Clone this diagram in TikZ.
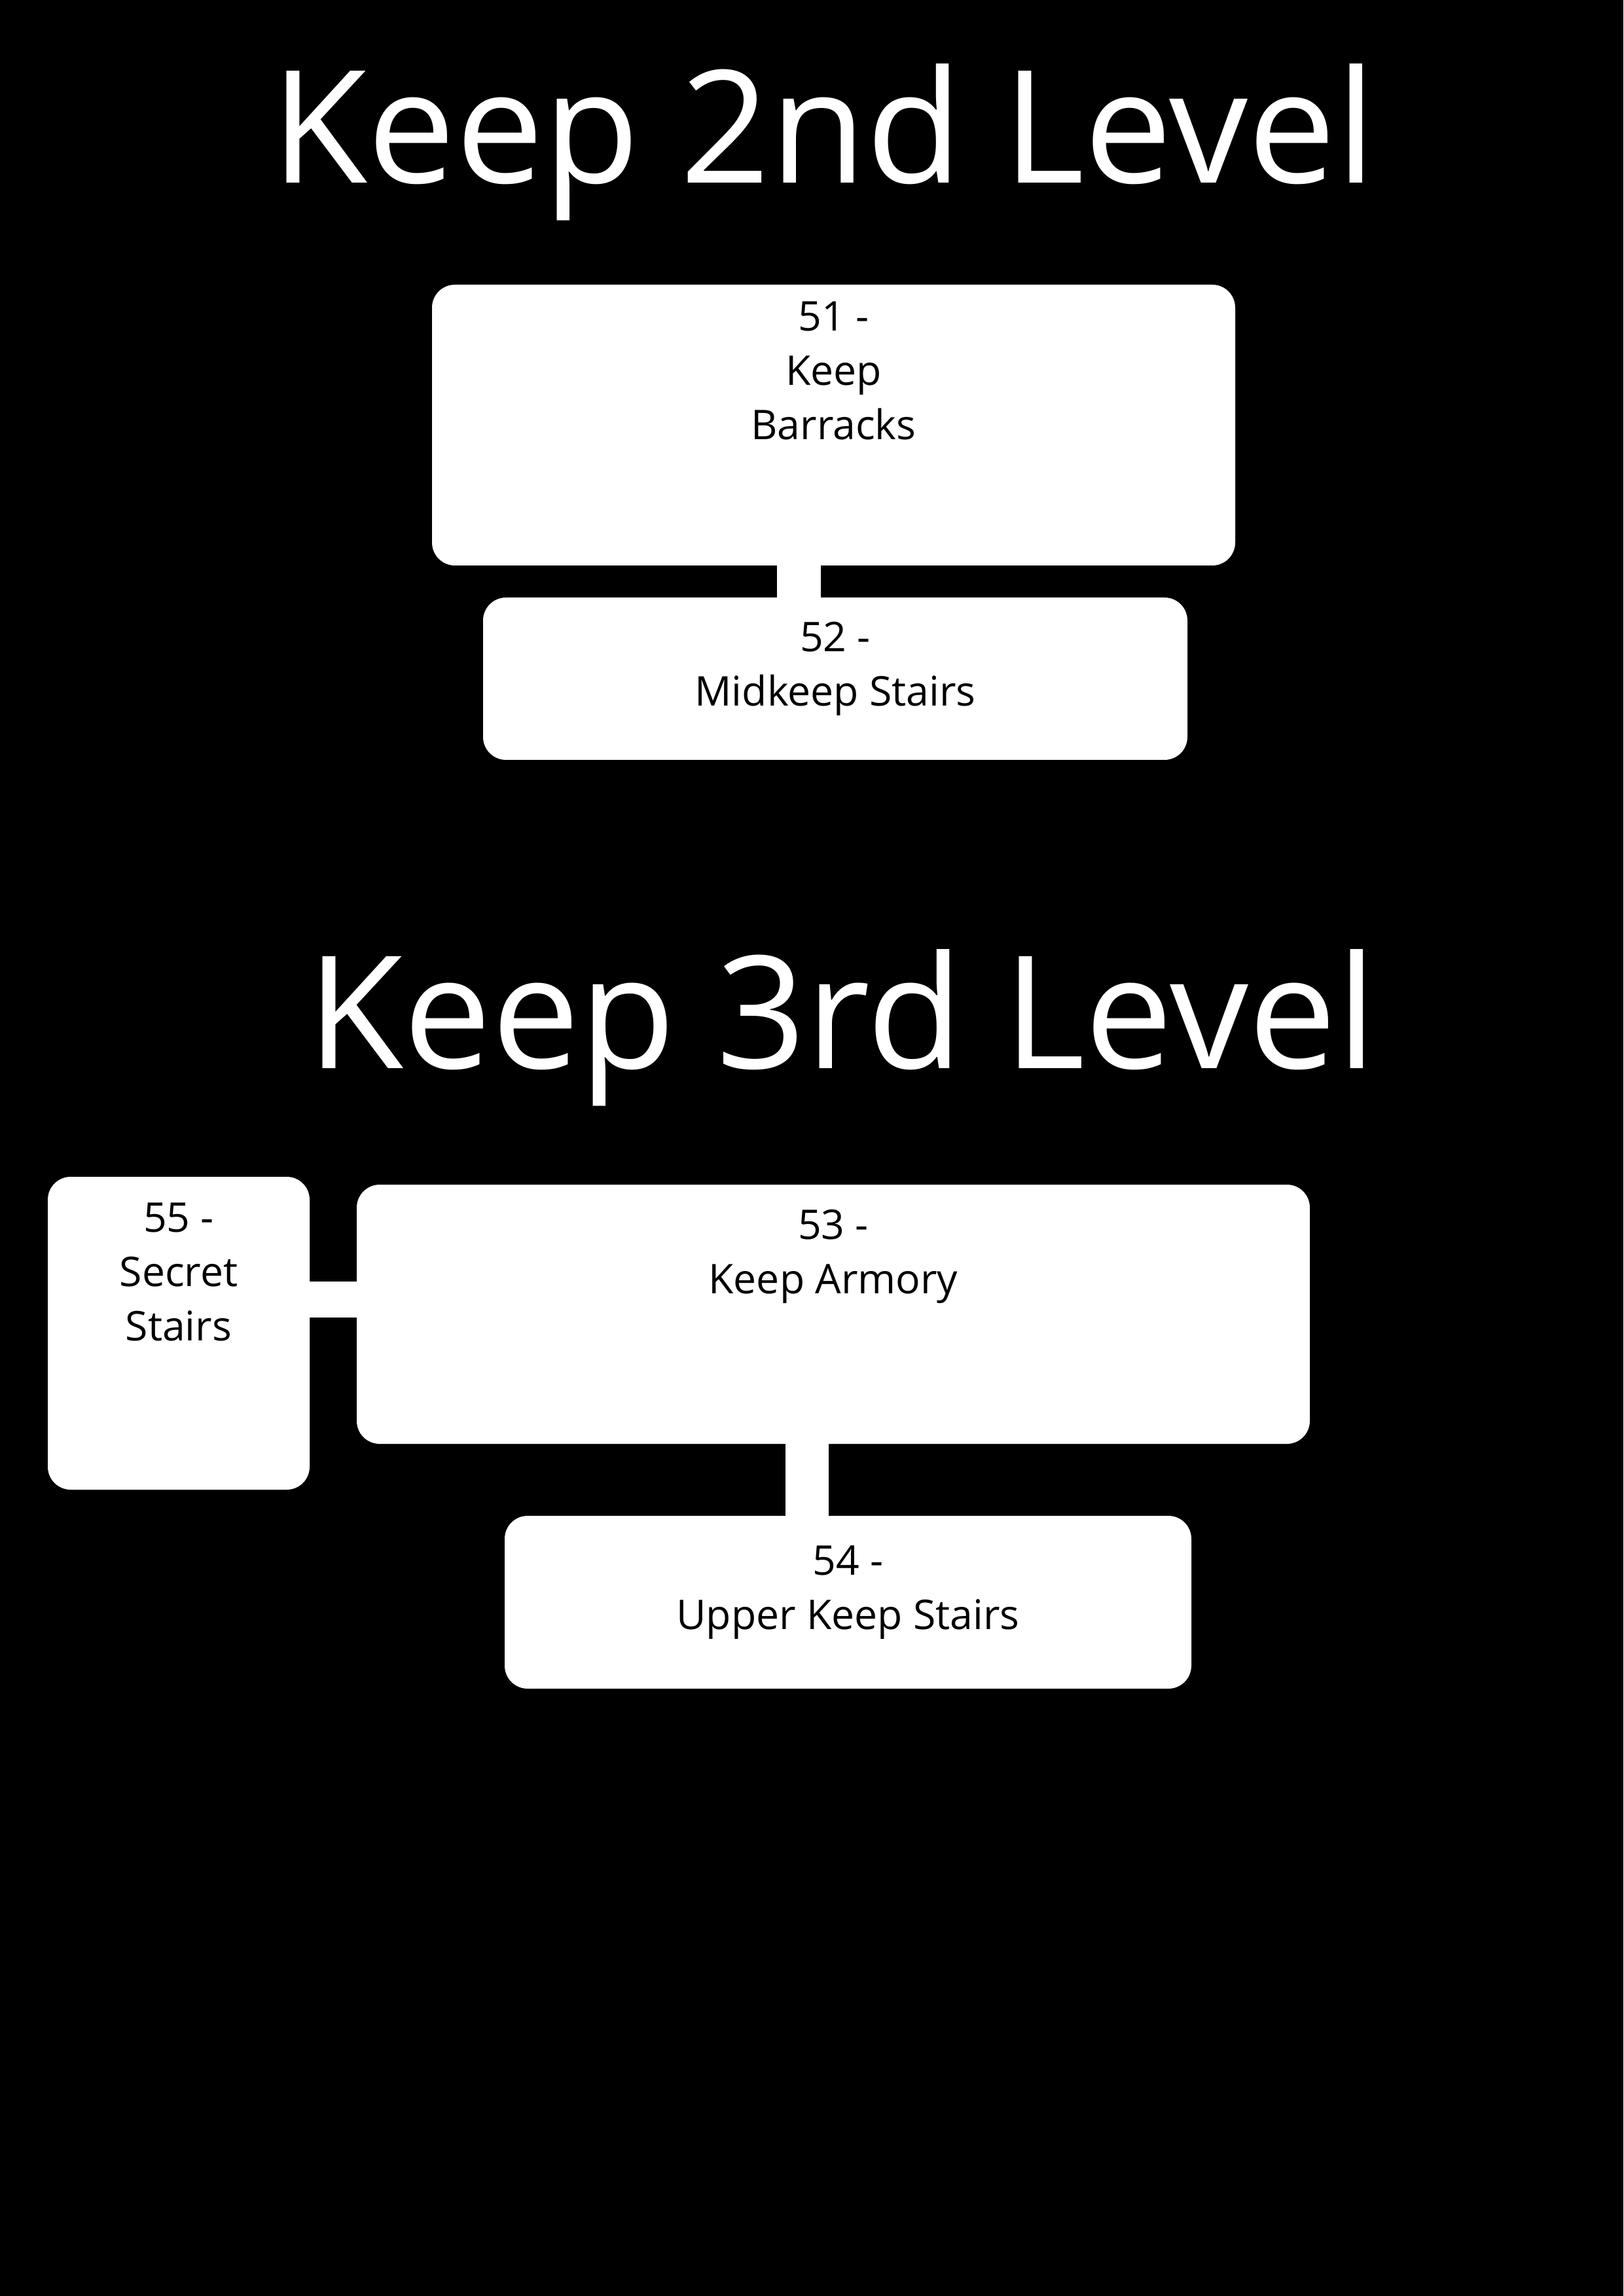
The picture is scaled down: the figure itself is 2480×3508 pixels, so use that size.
\documentclass[tikz,border=0pt]{standalone}
\usepackage{fontspec}
\setmainfont{Open Sans}
\begin{document}
\begin{tikzpicture}[x=0.24pt,y=-0.24pt,
  box/.style={fill=white, rounded corners=8.4pt, inner sep=0pt, outer sep=0pt,
    align=center, anchor=north, text=black,
    font=\fontsize{15pt}{19.92pt}\selectfont},
  title/.style={text=white, anchor=base, inner sep=0pt,
    font=\fontsize{57.5pt}{69pt}\selectfont},
  conn/.style={draw=white, line cap=butt}]
\fill[black] (0,0) rectangle (2480,3508);
\useasboundingbox (0,0) rectangle (2480,3508);
% titles
\node[title] (t1) at (1258,280) {Keep 2nd Level};
\node[title] (t2) at (1286,1632) {Keep 3rd Level};
% level 2
\node[box, minimum width=294.48pt, text height=56.88pt, text depth=46.08pt] (b51) at (1273.5,435) {51 -\\Keep\\Barracks};
\node[box, minimum width=258.24pt, text height=39.84pt, text depth=19.68pt] (b52) at (1276,913) {52 -\\Midkeep Stairs};
% level 3
\node[box, minimum width=96pt, text height=60pt, text depth=54.72pt] (b55) at (273,1798) {55 -\\Secret\\Stairs};
\node[box, minimum width=349.44pt, text height=39.84pt, text depth=55.2pt] (b53) at (1273,1810) {53 -\\Keep Armory};
\node[box, minimum width=251.76pt, text height=41.52pt, text depth=21.84pt] (b54) at (1295.5,2316) {54 -\\Upper Keep Stairs};
% connectors
\coordinate (x1) at (1220,0);
\coordinate (y2) at (0,1985.5);
\coordinate (x3) at (1233,0);
\draw[conn, line width=16.08pt] (b51.south -| x1) -- (b52.north -| x1);
\draw[conn, line width=13.2pt] (b55.east |- y2) -- (b53.west |- y2);
\draw[conn, line width=15.84pt] (b53.south -| x3) -- (b54.north -| x3);
\end{tikzpicture}
\end{document}
